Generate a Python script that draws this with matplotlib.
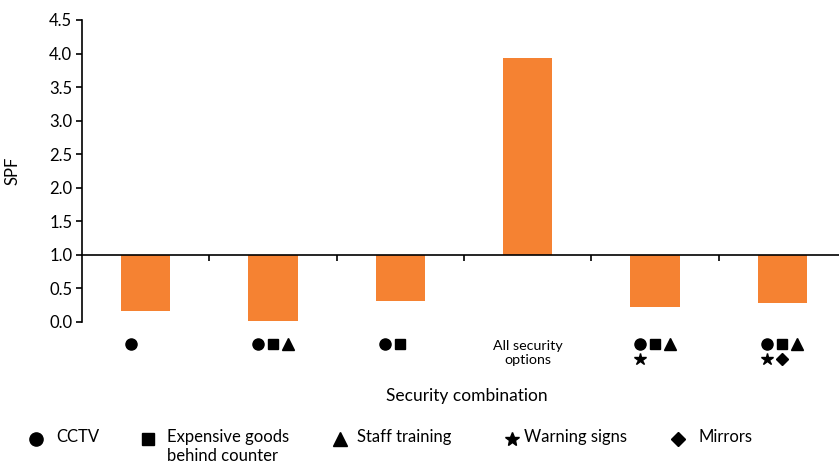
import matplotlib
matplotlib.use("Agg")
from matplotlib import pyplot as plt
from matplotlib.transforms import blended_transform_factory

plt.rcParams['font.family'] = ['Lato', 'DejaVu Sans']

# SPF per security combination, bars drawn from the 1.0 baseline
spf = [0.17, 0.02, 0.32, 3.93, 0.22, 0.28]
combos = [
    [['o']],
    [['o', 's', '^']],
    [['o', 's']],
    None,
    [['o', 's', '^'], ['*']],
    [['o', 's', '^'], ['*', 'D']],
]
combo_text = "All security\noptions"
legend_marks = ['o', 's', '^', '*', 'D']
legend_labels = ['CCTV', 'Expensive goods\nbehind counter', 'Staff training',
                 'Warning signs', 'Mirrors']

orange = '#F58232'
msize = {'o': 8, 's': 7.5, '^': 8, '*': 9, 'D': 6}

W, H = 839, 467
fig = plt.figure(figsize=(W / 100, H / 100), dpi=100)
ax = fig.add_axes([82 / W, (H - 322) / H, (846 - 82) / W, 302 / H])

x = list(range(len(spf)))
heights = [v - 1.0 for v in spf]
ax.bar(x, heights, bottom=1.0, width=0.39, color=orange, zorder=2)

ax.set_xlim(-0.5, len(spf) - 0.5)
ax.set_ylim(0, 4.5)
ax.set_yticks([i * 0.5 for i in range(10)])
ax.yaxis.set_major_formatter(matplotlib.ticker.FormatStrFormatter('%.1f'))
ax.tick_params(axis='y', labelsize=12, length=4, width=1.2, direction='out',
               pad=3)

ax.spines['top'].set_visible(False)
ax.spines['right'].set_visible(False)
ax.spines['left'].set_linewidth(1.2)
ax.spines['bottom'].set_position(('data', 1.0))
ax.spines['bottom'].set_linewidth(1.2)
ax.spines['bottom'].set_zorder(3)
ax.set_xticks([i + 0.5 for i in range(len(spf) - 1)])
ax.set_xticklabels([])
ax.tick_params(axis='x', length=4, width=1.2, direction='out')

# symbol rows under each bar
trans = blended_transform_factory(ax.transData, ax.transAxes)
step = 15 / 127
row_y = [-0.073, -0.122]
for i, c in enumerate(combos):
    if c is None:
        ax.text(i, -0.058, combo_text, transform=trans, ha='center', va='top',
                fontsize=10.3, linespacing=1.25)
        continue
    for r, row in enumerate(c):
        for k, m in enumerate(row):
            ax.plot(i + (k - 1) * step, row_y[r], marker=m, color='black',
                    markersize=msize[m], transform=trans, clip_on=False,
                    linestyle='none')

ax.set_ylabel('SPF', fontsize=12)
ax.yaxis.set_label_coords(-0.08, 0.5)
fig.text(467 / W, 1 - 396 / H, 'Security combination', ha='center',
         va='center', fontsize=12.5)

# legend row along the bottom
mark_x = [36, 148, 340, 512, 678]
text_x = [56, 167, 357, 524, 698]
ly = 1 - 439 / H
for m, lab, mx, tx in zip(legend_marks, legend_labels, mark_x, text_x):
    fig.lines.append(matplotlib.lines.Line2D(
        [mx / W], [ly], marker=m, color='black', markersize=msize[m] + 1.5,
        linestyle='none', transform=fig.transFigure))
    fig.text(tx / W, ly + 10 / H, lab, ha='left', va='top', fontsize=12,
             linespacing=1.2)

fig.savefig('out.png', dpi=100)
